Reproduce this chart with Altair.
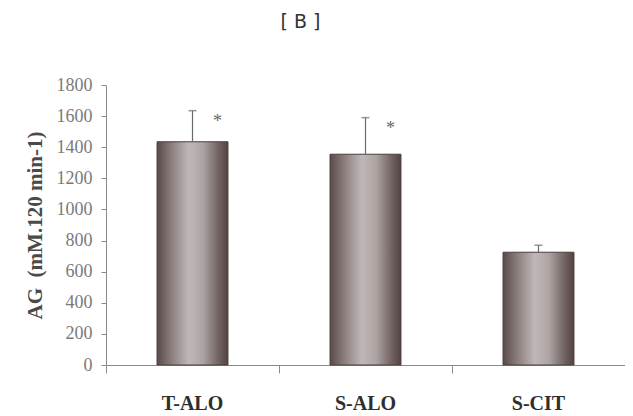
import altair as alt
import pandas as pd

categories = ["T-ALO", "S-ALO", "S-CIT"]
means = [1435, 1355, 725]
errors = [200, 235, 45]
stars = ["*", "*", ""]
y_ticks = [0, 200, 400, 600, 800, 1000, 1200, 1400, 1600, 1800]

df = pd.DataFrame({
    "group": categories,
    "mean": means,
    "upper": [m + e for m, e in zip(means, errors)],
    "star": stars,
})

x_axis = alt.Axis(
    title=None, labelAngle=0, bandPosition=0, tickSize=8,
    domainColor="#8a8a8a", tickColor="#8a8a8a",
    labelFont="Liberation Serif", labelFontWeight="bold", labelFontSize=20,
    labelColor="#2e2e2e", labelPadding=20,
)
x_scale = alt.Scale(paddingInner=0, paddingOuter=0)
y_axis = alt.Axis(
    values=y_ticks, tickCount=10, format="d", labelOverlap=False,
    title="AG\u00a0\u00a0(mM.120 min-1)", grid=False,
    tickSize=5, domainColor="#8a8a8a", tickColor="#8a8a8a",
    labelFont="Liberation Serif", labelFontSize=18, labelColor="#7a7a7a",
    labelPadding=9,
    titleFont="Liberation Serif", titleFontWeight="bold", titleFontSize=21,
    titleColor="#4a4a4a", titlePadding=11,
)
y_scale = alt.Scale(domain=[0, 1800], nice=False)


def xe():
    return alt.X("group:N", sort=categories, scale=x_scale, axis=x_axis)


grad = alt.LinearGradient(
    gradient="linear", x1=0, x2=1, y1=0, y2=0,
    stops=[
        alt.GradientStop(color="#5a4a48", offset=0),
        alt.GradientStop(color="#8a7e7d", offset=0.2),
        alt.GradientStop(color="#c0b8b8", offset=0.45),
        alt.GradientStop(color="#ada3a3", offset=0.65),
        alt.GradientStop(color="#766866", offset=0.85),
        alt.GradientStop(color="#524240", offset=1),
    ],
)

bars = alt.Chart(df).mark_bar(
    color=grad, stroke="#4a3e3c", strokeWidth=1, width=alt.RelativeBandSize(0.41)
).encode(
    x=xe(),
    y=alt.Y("mean:Q", scale=y_scale, axis=y_axis),
)

err = alt.Chart(df).mark_rule(color="#6a6a6a", strokeWidth=1.2).encode(
    x=xe(),
    y=alt.Y("mean:Q", scale=y_scale, axis=y_axis),
    y2="upper:Q",
)
caps = alt.Chart(df).mark_tick(color="#6a6a6a", thickness=1.5, size=8, orient="horizontal").encode(
    x=xe(),
    y=alt.Y("upper:Q", scale=y_scale, axis=y_axis),
)
star_text = alt.Chart(df).mark_text(
    dx=25, dy=11, fontSize=18, font="Liberation Serif", color="#666666", baseline="middle"
).encode(
    x=xe(),
    y=alt.Y("upper:Q", scale=y_scale, axis=y_axis),
    text="star:N",
)

chart = alt.layer(bars, err, caps, star_text).properties(
    width=519, height=280,
    autosize=alt.AutoSizeParams(type="none"),
    padding={"left": 98, "top": 77, "right": 0, "bottom": 50},
    title=alt.TitleParams(
        "[\u00a0B\u00a0]", font="DejaVu Sans", fontSize=19, fontWeight="normal",
        color="#333333", anchor="middle", frame="group", dx=-65, offset=44,
    ),
).configure(background="white").configure_view(stroke=None)

chart.save("out.html", embed_options={"renderer": "svg", "actions": False})
